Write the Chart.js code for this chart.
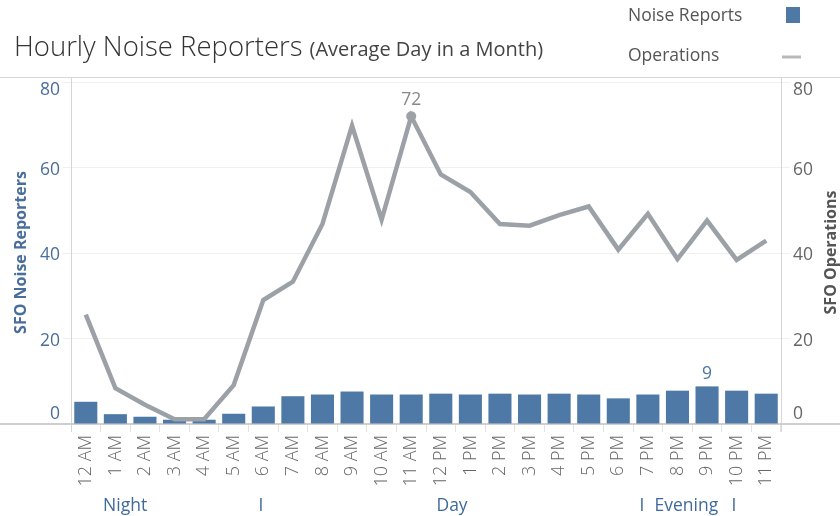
<!DOCTYPE html>
<html>
<head>
<meta charset="utf-8">
<script src="https://cdn.jsdelivr.net/npm/chart.js@4"></script>
<style>
  html, body { margin: 0; padding: 0; background: #fff; }
  #wrap { width: 840px; height: 516px; position: relative; }
</style>
</head>
<body>
<div id="wrap"><canvas id="noiseChart" width="840" height="516"></canvas></div>
<script>
// ==========================================
// DATA
// ==========================================
var hours = ['12 AM', '1 AM', '2 AM', '3 AM', '4 AM', '5 AM', '6 AM', '7 AM', '8 AM', '9 AM', '10 AM', '11 AM',
             '12 PM', '1 PM', '2 PM', '3 PM', '4 PM', '5 PM', '6 PM', '7 PM', '8 PM', '9 PM', '10 PM', '11 PM'];
var noiseReports = [5.2, 2.3, 1.7, 1.0, 1.0, 2.4, 4.1, 6.5, 6.9, 7.6, 6.9, 6.9,
                    7.1, 6.9, 7.1, 6.9, 7.1, 6.9, 6.0, 6.9, 7.8, 8.8, 7.8, 7.1];
var operations = [25.6, 8.4, 4.5, 1.1, 1.1, 9.1, 29.0, 33.3, 46.8, 69.8, 47.8, 72,
                  58.4, 54.3, 46.8, 46.4, 48.9, 50.9, 40.8, 49.2, 38.6, 47.6, 38.4, 42.9];
var yTicks = [0, 20, 40, 60, 80];
var dayParts = ['Night', 'I', 'Day', 'I', 'Evening', 'I'];
var dayPartAt = [1.33, 5.92, 12.38, 18.8, 20.3, 21.91]; // hour index where each header sits

var BLUE = '#4e79a7';
var GREY_LINE = '#9ca1a7';
var FONT = '"Open Sans", sans-serif';

// Tableau keeps the end labels inside the pane
function tickNudge(v) {
    if (v === 0) return -10;
    if (v === 80) return 8;
    return 2;
}

// ==========================================
// DECORATION PLUGIN (title, legend, frame, labels)
// ==========================================
var decor = {
    id: 'decor',
    beforeDatasetsDraw: function(chart) {
        var ctx = chart.ctx, a = chart.chartArea;
        ctx.save();
        ctx.strokeStyle = '#d6d6d6';
        ctx.lineWidth = 1;
        ctx.beginPath();
        ctx.moveTo(0, a.top + 0.5); ctx.lineTo(840, a.top + 0.5);
        ctx.moveTo(a.left + 0.5, a.top); ctx.lineTo(a.left + 0.5, a.bottom + 8);
        ctx.moveTo(a.right + 0.5, a.top); ctx.lineTo(a.right + 0.5, a.bottom + 8);
        ctx.stroke();
        ctx.strokeStyle = '#cfcfcf';
        ctx.lineWidth = 2;
        ctx.beginPath();
        ctx.moveTo(0, a.bottom); ctx.lineTo(840, a.bottom);
        ctx.stroke();
        ctx.restore();
    },
    afterDraw: function(chart) {
        var ctx = chart.ctx, a = chart.chartArea;
        var x = chart.scales.x, y = chart.scales.y, y2 = chart.scales.y2;
        ctx.save();

        // title
        ctx.textBaseline = 'alphabetic';
        ctx.textAlign = 'left';
        ctx.fillStyle = '#333';
        ctx.font = '300 27.5px ' + FONT;
        ctx.fillText('Hourly Noise Reporters', 14, 56);
        var w = ctx.measureText('Hourly Noise Reporters').width + 7;
        ctx.font = '20px ' + FONT;
        ctx.fillStyle = '#444';
        ctx.fillText('(Average Day in a Month)', 14 + w, 56);

        // legend
        ctx.font = '17.5px ' + FONT;
        ctx.fillStyle = '#555';
        ctx.textBaseline = 'middle';
        ctx.fillText('Noise Reports', 628, 16);
        ctx.fillText('Operations', 628, 56);
        ctx.fillStyle = BLUE;
        ctx.fillRect(786, 7, 14, 16);
        ctx.strokeStyle = '#b9b9b9';
        ctx.lineWidth = 3;
        ctx.beginPath(); ctx.moveTo(782, 57); ctx.lineTo(801, 57); ctx.stroke();

        // y tick labels
        ctx.font = '17.5px ' + FONT;
        yTicks.forEach(function(v) {
            var off = tickNudge(v);
            ctx.textAlign = 'right';
            ctx.fillStyle = '#4a6e9b';
            ctx.fillText(String(v), 60, y.getPixelForValue(v) + off);
            ctx.textAlign = 'left';
            ctx.fillStyle = '#666';
            ctx.fillText(String(v), 793, y2.getPixelForValue(v) + off);
        });

        // axis titles
        ctx.font = 'bold 16px ' + FONT;
        ctx.textAlign = 'center';
        var mid = (a.top + a.bottom) / 2 + 2;
        ctx.save();
        ctx.translate(21, mid); ctx.rotate(-Math.PI / 2);
        ctx.fillStyle = '#4a6e9b';
        ctx.fillText('SFO Noise Reporters', 0, 0);
        ctx.restore();
        ctx.save();
        ctx.translate(831, mid); ctx.rotate(-Math.PI / 2);
        ctx.fillStyle = '#555';
        ctx.fillText('SFO Operations', 0, 0);
        ctx.restore();

        // value labels on the peaks
        var iOps = operations.indexOf(Math.max.apply(null, operations));
        var iBar = noiseReports.indexOf(Math.max.apply(null, noiseReports));
        ctx.font = '17.5px ' + FONT;
        ctx.textBaseline = 'bottom';
        ctx.fillStyle = '#888';
        ctx.fillText(String(Math.round(operations[iOps])), x.getPixelForValue(iOps), y2.getPixelForValue(operations[iOps]) - 8);
        ctx.fillStyle = BLUE;
        ctx.fillText(String(Math.round(noiseReports[iBar])), x.getPixelForValue(iBar), y.getPixelForValue(noiseReports[iBar]) - 4);

        // day part headers
        ctx.font = '17.5px ' + FONT;
        ctx.textBaseline = 'middle';
        ctx.fillStyle = '#3f6a9a';
        dayParts.forEach(function(t, i) {
            ctx.fillText(t, x.getPixelForValue(dayPartAt[i]), 506);
        });
        ctx.restore();
    }
};

// ==========================================
// CHART
// ==========================================
new Chart(document.getElementById('noiseChart').getContext('2d'), {
    type: 'bar',
    data: {
        labels: hours,
        datasets: [{
            type: 'line',
            label: 'Operations',
            data: operations,
            yAxisID: 'y2',
            borderColor: GREY_LINE,
            backgroundColor: GREY_LINE,
            borderWidth: 4.5,
            tension: 0,
            pointRadius: operations.map(function(v) { return v === Math.max.apply(null, operations) ? 5 : 0; }),
            pointBorderWidth: 0,
            order: 0
        }, {
            label: 'Noise Reports',
            data: noiseReports,
            yAxisID: 'y',
            backgroundColor: BLUE,
            categoryPercentage: 1,
            barPercentage: 0.78,
            order: 1
        }]
    },
    plugins: [decor],
    options: {
        responsive: false,
        animation: false,
        layout: { padding: { top: 77, left: 0, right: 0, bottom: 0 } },
        plugins: { legend: { display: false }, tooltip: { enabled: false } },
        scales: {
            x: {
                offset: true,
                afterFit: function(s) { s.height = 92; },
                grid: { offset: true, drawOnChartArea: false, color: '#e2e2e2', tickLength: 8 },
                border: { display: false },
                ticks: {
                    maxRotation: 90, minRotation: 90, autoSkip: false, padding: 3,
                    color: '#666', font: { family: 'Open Sans', size: 18, weight: '300' }
                }
            },
            y: {
                position: 'left',
                min: 0, max: 81.2,
                afterFit: function(s) { s.width = 71; },
                afterBuildTicks: function(s) { s.ticks = yTicks.map(function(v) { return { value: v }; }); },
                grid: { color: function(c) { return c.tick && c.tick.value === 0 ? 'rgba(0,0,0,0)' : '#f0f0f0'; }, tickLength: 9 },
                border: { display: false },
                ticks: { display: false }
            },
            y2: {
                position: 'right',
                min: 0, max: 81.2,
                afterFit: function(s) { s.width = 59; },
                afterBuildTicks: function(s) { s.ticks = yTicks.map(function(v) { return { value: v }; }); },
                grid: { drawOnChartArea: false, color: function(c) { return c.tick && c.tick.value === 0 ? 'rgba(0,0,0,0)' : '#f0f0f0'; }, tickLength: 9 },
                border: { display: false },
                ticks: { display: false }
            }
        }
    }
});
</script>
</body>
</html>
